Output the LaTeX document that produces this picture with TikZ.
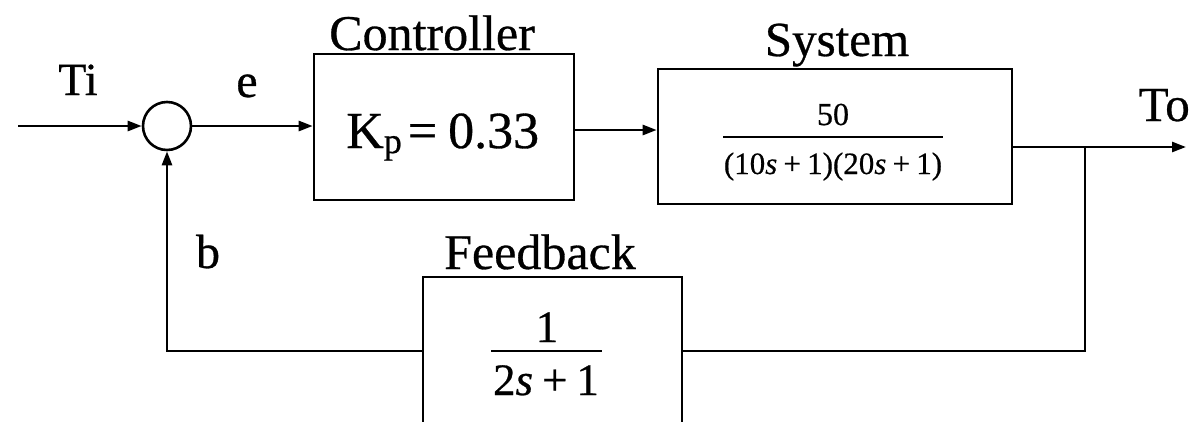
\documentclass[tikz,border=0pt]{standalone}
\usepackage{fontspec}
\setmainfont{Liberation Serif}[FakeBold=0.6]
\usetikzlibrary{arrows.meta}
\begin{document}
\begin{tikzpicture}[x=1pt,y=-1pt, line width=2.6pt,
  >={Triangle[length=14pt,width=10pt]},
  lab/.style={inner sep=0pt, anchor=base, font=\fontsize{50}{60}\selectfont},
  fracfont/.style={inner sep=0pt, anchor=base},
  blockbox/.style={draw, rectangle, inner sep=0pt},
  barline/.style={line width=1.8pt}]
\useasboundingbox (0,0) rectangle (1190,421);
\clip (0,0) rectangle (1190,421);

% blocks
\node[draw, circle, minimum size=48pt, inner sep=0pt] (sum) at (167,126) {};
\node[blockbox, minimum width=260pt, minimum height=146pt] (ctrl) at (444,127) {};
\node[blockbox, minimum width=354pt, minimum height=135pt] (sys) at (835,136.5) {};
\node[blockbox, minimum width=259pt, minimum height=148pt] (fb) at (552.5,351) {};

% titles and signal labels
\node[lab] (ctrllab) at (432,50) {Controller};
\node[lab, font=\fontsize{49}{59}\selectfont] (syslab) at (837,56) {System};
\node[lab] (fblab) at (540,269) {Feedback};
\node[lab, font=\fontsize{46}{55}\selectfont] (ti) at (78,95) {Ti};
\node[lab, font=\fontsize{48}{58}\selectfont] (e) at (247,97) {e};
\node[lab, font=\fontsize{48}{58}\selectfont] (b) at (208,268) {b};
\node[lab, font=\fontsize{49}{58}\selectfont, anchor=base east] (to) at (1191,121) {To};

% block contents
\node[inner sep=0pt, anchor=base west, font=\fontsize{52}{62}\selectfont] (kp) at (345,148)
  {K\raisebox{-5pt}{\fontsize{36}{40}\selectfont p}\hspace{6pt}=\hspace{11pt}0.33};

\node[fracfont, font=\fontsize{32}{38}\selectfont] (sysnum) at (833,125) {50};
\node[fracfont, font=\fontsize{31}{37}\selectfont] (sysden) at (833,174)
  {(10\textit{s}\hspace{0.2em}+\hspace{0.2em}1)(20\textit{s}\hspace{0.2em}+\hspace{0.2em}1)};
\coordinate (sysbarL) at (723,137);
\coordinate (sysbarR) at (943,137);
\draw[barline] (sysbarL) -- (sysbarR);

\node[fracfont, font=\fontsize{45}{54}\selectfont] (fbnum) at (547,342) {1};
\node[fracfont, font=\fontsize{45}{54}\selectfont] (fbden) at (546,395)
  {2\textit{s}\hspace{0.2em}+\hspace{0.2em}1};
\coordinate (fbbarL) at (491,351);
\coordinate (fbbarR) at (602,351);
\draw[barline] (fbbarL) -- (fbbarR);

% connectors
\coordinate (in) at (18,126);
\coordinate (br) at (1085,147);
\coordinate (out) at (1186,147);
\draw[->] (in) -- (sum.west);
\draw[->] (sum.east) -- (sum.east -| ctrl.west);
\draw[->] ([yshift=-3pt]ctrl.east) -- ([yshift=-3pt]ctrl.east -| sys.west);
\draw (sys.east |- br) -- (br);
\draw[->] (br) -- (out);
\draw (br) |- (fb.east);
\draw[->] (fb.west) -| (sum.south);
\end{tikzpicture}
\end{document}
